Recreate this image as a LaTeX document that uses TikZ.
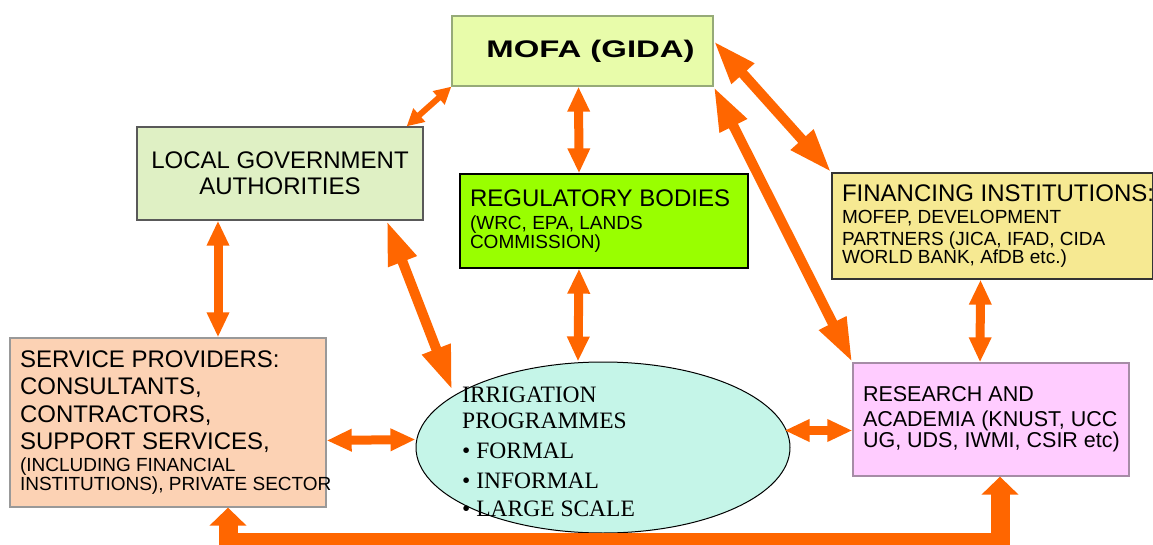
\documentclass[tikz,border=0pt]{standalone}
\usepackage{fontspec}
\usepackage{graphicx}
\setmainfont{Liberation Serif}
\setsansfont{Liberation Sans}
\usetikzlibrary{arrows.meta,shapes.geometric}
\definecolor{arrowor}{HTML}{FF6600}
\definecolor{mofafill}{HTML}{E8FCAA}
\definecolor{mofaline}{HTML}{96AA78}
\definecolor{lgafill}{HTML}{DFF0C4}
\definecolor{regfill}{HTML}{99FF00}
\definecolor{finfill}{HTML}{F6E992}
\definecolor{spfill}{HTML}{FCD2B4}
\definecolor{resfill}{HTML}{FFCCFF}
\definecolor{resline}{HTML}{A68CA6}
\definecolor{ellfill}{HTML}{C5F5E8}
\begin{document}
\begin{tikzpicture}[x=1pt,y=-1pt,
    box/.style={draw, line width=1.3pt, inner xsep=10pt, inner ysep=0pt, font=\sffamily, align=flush left},
    link/.style={color=arrowor, line width=9pt, >={Triangle[length=25pt,width=21pt]}, <->},
    thin link/.style={color=arrowor, line width=6pt, >={Triangle[length=17pt,width=17pt]}, <->},
    long link/.style={color=arrowor, line width=10pt, >={Triangle[length=44pt,width=28pt]}, <->},
    base link/.style={color=arrowor, line width=19pt, >={Triangle[length=18pt,width=36pt]}, <->}]
    \useasboundingbox (0,0) rectangle (1153,545);
    \node[box, fill=mofafill, draw=mofaline, minimum width=261pt, minimum height=70pt, align=center,
        font=\sffamily\bfseries\fontsize{24}{28}\selectfont] (mofa) at (582.5,51)
        {\hspace*{16pt}\scalebox{1.37}[1]{MOFA (GIDA)}};
    \node[box, fill=lgafill, draw=black!65, minimum width=286pt, minimum height=93pt, align=center,
        font=\sffamily\fontsize{24}{26}\selectfont] (lga) at (280,173.5)
        {LOCAL GOVERNMENT\\AUTHORITIES};
    \node[box, fill=regfill, draw=black, text width=268pt, minimum height=94pt] (reg) at (604,221)
        {{\fontsize{24}{23}\selectfont REGULATORY BODIES}\\\fontsize{19}{23}\selectfont (WRC, EPA, LANDS\\COMMISSION)};
    \node[box, fill=finfill, draw=black!80, text width=301pt, minimum height=106pt] (fin) at (992.5,226)
        {{\fontsize{24}{22}\selectfont\mbox{FINANCING INSTITUTIONS:}}\\\fontsize{19}{22}\selectfont MOFEP, DEVELOPMENT\\PARTNERS (JICA, IFAD, CIDA\\WORLD BANK, AfDB etc.)};
    \node[box, fill=spfill, draw=black!40, text width=296pt, minimum height=169pt] (sp) at (168,422.5)
        {\fontsize{24}{27.5}\selectfont SERVICE PROVIDERS:\\CONSULTANTS,\\CONTRACTORS,\\SUPPORT SERVICES,\par
         \fontsize{19}{22}\selectfont (INCLUDING FINANCIAL\\\mbox{INSTITUTIONS), PRIVATE SECTOR}};
    \node[box, fill=resfill, draw=resline, text width=256pt, minimum height=113pt] (res) at (991,419.5)
        {\fontsize{21.5}{25}\selectfont RESEARCH AND\\\mbox{ACADEMIA (KNUST, UCC}\\\mbox{UG, UDS, IWMI, CSIR etc)}};
    \node[ellipse, draw=black, line width=1pt, fill=ellfill, minimum width=374pt, minimum height=171pt, inner sep=0pt] (ell) at (603,447.5) {};
    \node[anchor=north west, inner sep=0pt, align=left, font=\fontsize{23.5}{26}\selectfont] (irr) at (462,387)
        {IRRIGATION\\PROGRAMMES\\[4pt]\textbullet\ FORMAL\\[4pt]\textbullet\ INFORMAL\\[2pt]\textbullet\ LARGE SCALE};
    \draw[thin link] (mofa.south west) -- ([xshift=-17pt]lga.north east);
    \draw[link] ([xshift=-4pt]mofa.south) -- ([xshift=-25pt]reg.north);
    \draw[long link] ([yshift=10pt]mofa.east) -- (fin.north west);
    \draw[long link] (mofa.south east) -- (res.north west);
    \draw[link] ([xshift=-62pt]lga.south) -- ([xshift=50pt]sp.north);
    \draw[long link] ([xshift=-37pt]lga.south east) -- ([shift={(-4pt,4pt)}]ell.160);
    \draw[link] ([xshift=-25pt]reg.south) -- ([xshift=-25pt]ell.north);
    \draw[link] ([xshift=-12pt]fin.south) -- ([xshift=-11pt]res.north);
    \draw[link] ([yshift=-18pt]sp.east) -- ([yshift=8pt]ell.west);
    \draw[link] ([shift={(-6pt,17pt)}]ell.east) -- ([yshift=-11pt]res.west);
    \draw[base link] ([xshift=60pt]sp.south) -- ++(0,35) -| ([xshift=9pt]res.south);
\end{tikzpicture}
\end{document}
